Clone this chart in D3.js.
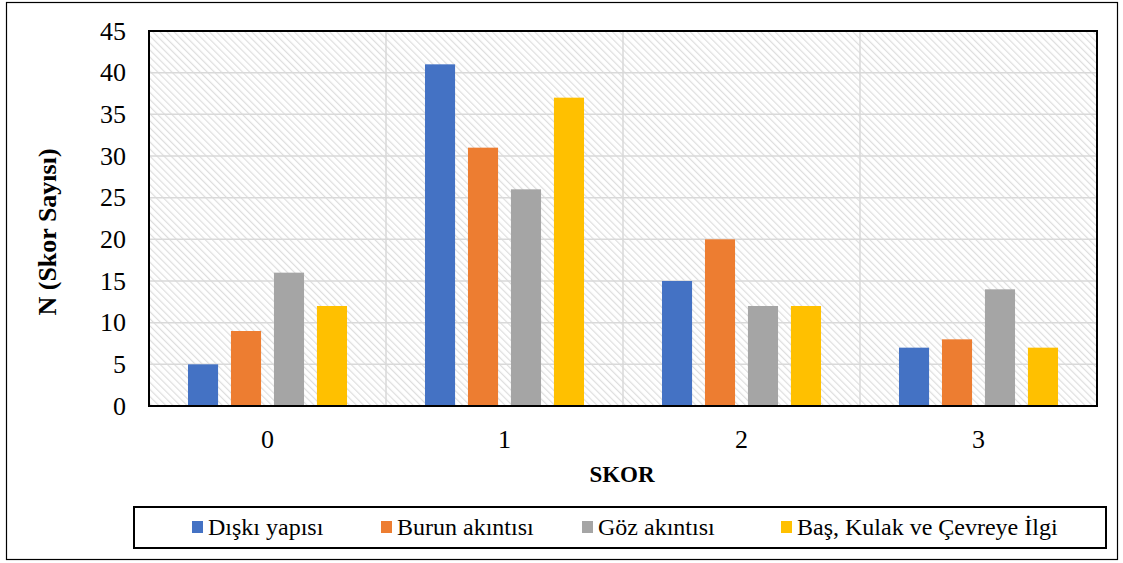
<!DOCTYPE html>
<html>
<head>
<meta charset="utf-8">
<script src="https://cdn.jsdelivr.net/npm/d3@7"></script>
<style>
  html, body { margin: 0; padding: 0; background: #fff; }
</style>
</head>
<body>
<svg id="chart" width="1123" height="563"></svg>
<script>
// Score categories and counts per clinical sign
const categories = ["0", "1", "2", "3"];
const seriesNames = ["Dışkı yapısı", "Burun akıntısı", "Göz akıntısı", "Baş, Kulak ve Çevreye İlgi"];
const diskiValues = [5, 41, 15, 7];
const burunValues = [9, 31, 20, 8];
const gozValues = [16, 26, 12, 14];
const basValues = [12, 37, 12, 7];
const yTicks = [0, 5, 10, 15, 20, 25, 30, 35, 40, 45];
const colors = ["#4472C4", "#ED7D31", "#A5A5A5", "#FFC000"];

const seriesValues = [diskiValues, burunValues, gozValues, basValues];
const FONT = "'Liberation Serif', 'Times New Roman', serif";

const svg = d3.select("#chart");

// outer frame
svg.append("rect")
  .attr("x", 6.5).attr("y", 2.5).attr("width", 1111).attr("height", 557)
  .attr("fill", "#fff").attr("stroke", "#000").attr("stroke-width", 1.2);

const plot = { left: 149, right: 1097, top: 31, bottom: 406 };

// diagonal hatch fill for the plot background
const defs = svg.append("defs");
const pat = defs.append("pattern")
  .attr("id", "hatch")
  .attr("patternUnits", "userSpaceOnUse")
  .attr("width", 5).attr("height", 5)
  .attr("patternTransform", "rotate(-45)");
pat.append("rect").attr("width", 5).attr("height", 5).attr("fill", "#fff");
pat.append("line")
  .attr("x1", 0).attr("y1", 0).attr("x2", 0).attr("y2", 5)
  .attr("stroke", "#dedede").attr("stroke-width", 2.4);

svg.append("rect")
  .attr("x", plot.left).attr("y", plot.top)
  .attr("width", plot.right - plot.left).attr("height", plot.bottom - plot.top)
  .attr("fill", "url(#hatch)");

const x = d3.scaleBand().domain(categories).range([plot.left, plot.right]).padding(0);
const xInner = d3.scaleBand().domain(d3.range(seriesNames.length))
  .range([0, x.bandwidth()]).paddingInner(0.3).paddingOuter(0.907);
const y = d3.scaleLinear().domain([0, 45]).range([plot.bottom, plot.top]);

// horizontal gridlines
svg.append("g").selectAll("line").data(yTicks.slice(1)).join("line")
  .attr("x1", plot.left).attr("x2", plot.right)
  .attr("y1", d => y(d)).attr("y2", d => y(d))
  .attr("stroke", "#d9d9d9").attr("stroke-width", 1.5);

// vertical gridlines at category boundaries
svg.append("g").selectAll("line").data(categories.slice(1)).join("line")
  .attr("x1", d => x(d)).attr("x2", d => x(d))
  .attr("y1", plot.top).attr("y2", plot.bottom)
  .attr("stroke", "#d9d9d9").attr("stroke-width", 1.5);

// bars
const groups = svg.append("g").selectAll("g").data(categories).join("g")
  .attr("transform", d => `translate(${x(d)},0)`);
groups.selectAll("rect")
  .data((c, ci) => seriesValues.map((vals, si) => ({ si, v: vals[ci] })))
  .join("rect")
  .attr("x", d => xInner(d.si))
  .attr("width", xInner.bandwidth())
  .attr("y", d => y(d.v))
  .attr("height", d => y(0) - y(d.v))
  .attr("fill", d => colors[d.si]);

// plot frame
svg.append("rect")
  .attr("x", plot.left).attr("y", plot.top)
  .attr("width", plot.right - plot.left).attr("height", plot.bottom - plot.top)
  .attr("fill", "none").attr("stroke", "#000").attr("stroke-width", 2);

// y axis
const yAxis = d3.axisLeft(y).tickValues(yTicks).tickSize(0).tickPadding(23);
const gy = svg.append("g").attr("transform", `translate(${plot.left},0)`).call(yAxis);
gy.select(".domain").remove();
gy.selectAll("text").style("font-family", FONT).style("font-size", "26px").attr("fill", "#000");

// x axis
const xAxis = d3.axisBottom(x).tickSize(0).tickPadding(24);
const gx = svg.append("g").attr("transform", `translate(0,${plot.bottom})`).call(xAxis);
gx.select(".domain").remove();
gx.selectAll("text").style("font-family", FONT).style("font-size", "26px").attr("fill", "#000");

// axis titles
svg.append("text")
  .attr("x", (plot.left + plot.right) / 2 - 1).attr("y", 482)
  .attr("text-anchor", "middle")
  .style("font-family", FONT).style("font-weight", "bold").style("font-size", "23px")
  .text("SKOR");
svg.append("text")
  .attr("transform", `translate(56,232) rotate(-90)`)
  .attr("text-anchor", "middle")
  .style("font-family", FONT).style("font-weight", "bold").style("font-size", "26px")
  .text("N (Skor Sayısı)");

// legend
svg.append("rect")
  .attr("x", 134).attr("y", 507).attr("width", 972).attr("height", 41)
  .attr("fill", "#fff").attr("stroke", "#000").attr("stroke-width", 2);
const legendX = [192, 381, 582, 781];
const lg = svg.append("g").selectAll("g").data(seriesNames).join("g")
  .attr("transform", (d, i) => `translate(${legendX[i]},521)`);
lg.append("rect").attr("width", 11).attr("height", 12).attr("fill", (d, i) => colors[i]);
lg.append("text").attr("x", 16).attr("y", 14)
  .style("font-family", FONT).style("font-size", "24px")
  .text(d => d);
</script>
</body>
</html>
